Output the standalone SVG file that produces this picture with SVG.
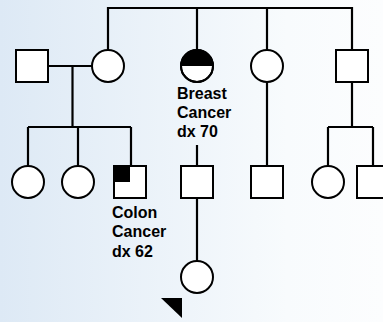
<svg xmlns="http://www.w3.org/2000/svg" width="383" height="322" viewBox="0 0 383 322">
<defs>
<linearGradient id="bg" x1="0" y1="0" x2="1" y2="0">
<stop offset="0" stop-color="#dde9f5"/>
<stop offset="0.75" stop-color="#f8fbfd"/>
<stop offset="1" stop-color="#fcfdfe"/>
</linearGradient>
<style>
.s{fill:#fff;stroke:#000;stroke-width:2}
.l{fill:none;stroke:#000;stroke-width:2.2}
.t{font-family:"Liberation Sans",Arial,sans-serif;font-weight:bold;font-size:16px;fill:#000}
</style>
</defs>
<rect width="383" height="322" fill="url(#bg)"/>
<g id="connectors">
<path class="l" d="M108 50V8H352V50M197 8V50M267 8V50"/>
<path class="l" d="M48 66H92M72.5 66V127M28 127H131M28 127V166M78 127V166M131 127V166"/>
<path class="l" d="M197 145V166M197 198V261"/>
<path class="l" d="M267 82V166"/>
<path class="l" d="M352 82V127M328 127H373M328 127V166M373 127V166"/>
</g>
<g id="grandfather"><rect class="s" x="16" y="50" width="32" height="32"/></g>
<g id="mother"><circle class="s" cx="108" cy="66" r="16"/></g>
<g id="aunt-breast">
<circle class="s" cx="197" cy="66" r="16"/>
<path d="M181 66A16 16 0 0 1 213 66Z" fill="#000"/>
<circle cx="197" cy="66" r="16" fill="none" stroke="#000" stroke-width="2"/>
<text class="t" x="177" y="99">Breast</text>
<text class="t" x="177" y="118">Cancer</text>
<text class="t" x="177" y="137">dx 70</text>
</g>
<g id="aunt2"><circle class="s" cx="267" cy="66" r="16"/></g>
<g id="uncle"><rect class="s" x="336" y="50" width="32" height="32"/></g>
<g id="cousin1"><circle class="s" cx="28" cy="182" r="16"/></g>
<g id="cousin2"><circle class="s" cx="78" cy="182" r="16"/></g>
<g id="cousin-colon">
<rect class="s" x="114" y="166" width="32" height="32"/>
<rect x="114" y="166" width="16" height="16" fill="#000"/>
<text class="t" x="112" y="218">Colon</text>
<text class="t" x="112" y="237">Cancer</text>
<text class="t" x="112" y="257">dx 62</text>
</g>
<g id="son1"><rect class="s" x="181" y="166" width="32" height="32"/></g>
<g id="son2"><rect class="s" x="251" y="166" width="32" height="32"/></g>
<g id="cousin3"><circle class="s" cx="328" cy="182" r="16"/></g>
<g id="cousin4"><rect class="s" x="357" y="166" width="32" height="32"/></g>
<g id="proband">
<circle class="s" cx="197" cy="277" r="16"/>
<path d="M161 298H182V318Z" fill="#000"/>
</g>
</svg>
